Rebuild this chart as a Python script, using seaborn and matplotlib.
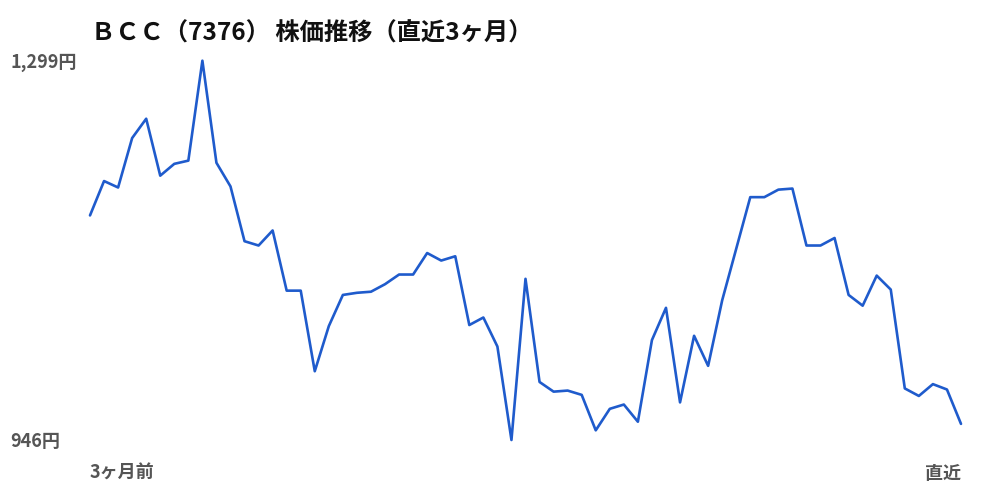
"""
ＢＣＣ（7376） 株価推移（直近3ヶ月）のラインチャート
"""

import matplotlib
matplotlib.use("Agg")
import matplotlib.pyplot as plt
import matplotlib.transforms as mtransforms
import seaborn as sns
import pandas as pd

# データ（直近3ヶ月の終値、画像から読み取り）
prices = [
    1155, 1187, 1181, 1227, 1245, 1192, 1203, 1206, 1299, 1204,
    1182, 1131, 1127, 1141, 1085, 1085, 1010, 1052, 1081, 1083,
    1084, 1091, 1100, 1100, 1120, 1113, 1117, 1053, 1060, 1033,
    946, 1096, 1000, 991, 992, 988, 955, 975, 979, 963,
    1039, 1069, 981, 1043, 1015, 1076, 1124, 1172, 1172, 1179,
    1180, 1127, 1127, 1134, 1081, 1071, 1099, 1086, 994, 987,
    998, 993, 961,
]
days = list(range(len(prices)))
title = "ＢＣＣ（7376） 株価推移（直近3ヶ月）"
x_labels = ["3ヶ月前", "直近"]

price_max = max(prices)
price_min = min(prices)

sns.set_theme(style="white")
plt.rcParams['font.family'] = ['Noto Sans CJK JP', 'DejaVu Sans']

df = pd.DataFrame({'day': days, 'price': prices})

fig = plt.figure(figsize=(10, 5), dpi=100)
ax = fig.add_axes([0.090, 0.120, 0.871, 0.7586])

sns.lineplot(data=df, x='day', y='price', ax=ax, color='#1f5bcc', linewidth=1.9)
for line in ax.get_lines():
    line.set_clip_on(False)

ax.set_xlim(days[0], days[-1])
ax.set_ylim(price_min, price_max)
ax.set_xticks([])
ax.set_yticks([])
ax.set_xlabel('')
ax.set_ylabel('')
sns.despine(ax=ax, left=True, bottom=True)

# 縦軸ラベル（最高値・最安値）、少し下にずらす
trans_y = mtransforms.blended_transform_factory(fig.transFigure, ax.transData)
trans_y = mtransforms.offset_copy(trans_y, fig=fig, x=0, y=-2, units='dots')
label_color = '#555555'
ax.text(0.010, price_max, f"{price_max:,}円", transform=trans_y, ha='left', va='center',
        fontsize=13, fontweight='bold', color=label_color, clip_on=False)
ax.text(0.010, price_min, f"{price_min:,}円", transform=trans_y, ha='left', va='center',
        fontsize=13, fontweight='bold', color=label_color, clip_on=False)

# 横軸ラベル
ax.text(0.0, -0.088, x_labels[0], transform=ax.transAxes, ha='left', va='center',
        fontsize=13, fontweight='bold', color=label_color)
ax.text(1.0, -0.088, x_labels[1], transform=ax.transAxes, ha='right', va='center',
        fontsize=13, fontweight='bold', color=label_color)

# タイトル
fig.text(0.091, 0.932, title, ha='left', va='center', fontsize=17.5,
         fontweight='bold', color='#111111')

fig.savefig('out.png', dpi=100, facecolor='white')
